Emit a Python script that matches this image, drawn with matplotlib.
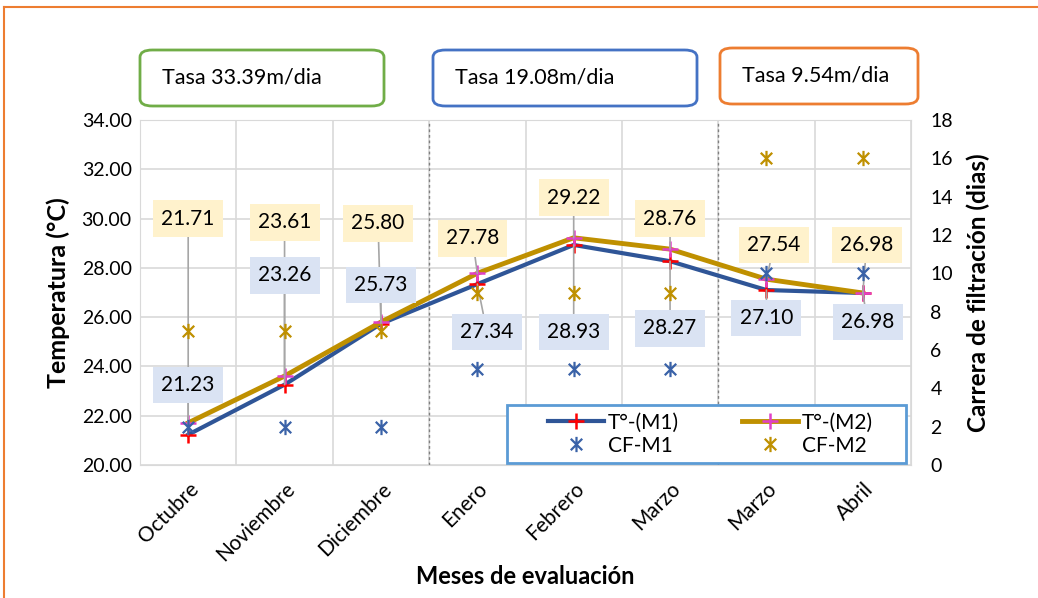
import numpy as np
import matplotlib
matplotlib.use("Agg")
import matplotlib.pyplot as plt
from matplotlib.path import Path
from matplotlib.lines import Line2D
from matplotlib.patches import FancyBboxPatch, Rectangle

plt.rcParams['font.family'] = ['Lato', 'DejaVu Sans']

# Datos
meses = ["Octubre", "Noviembre", "Diciembre", "Enero", "Febrero", "Marzo", "Marzo", "Abril"]
temp_m1 = [21.23, 23.26, 25.73, 27.34, 28.93, 28.27, 27.10, 26.98]
temp_m2 = [21.71, 23.61, 25.80, 27.78, 29.22, 28.76, 27.54, 26.98]
cf_m1 = [2, 2, 2, 5, 5, 5, 10, 10]
cf_m2 = [7, 7, 7, 9, 9, 9, 16, 16]
tasas = ["Tasa 33.39m/dia", "Tasa 19.08m/dia", "Tasa 9.54m/dia"]

# posiciones de las etiquetas (x desplazamiento, y en datos)
pos_m2 = [(0, 30.0), (0, 29.85), (-0.03, 29.8), (-0.05, 29.2), (0, 30.85), (0, 30.0), (0.08, 28.93), (0.04, 28.93)]
pos_m1 = [(0, 23.25), (0, 27.7), (0, 27.3), (0.1, 25.4), (0, 25.4), (0, 25.55), (0, 25.97), (0.05, 25.8)]

azul = "#2F5597"
oro = "#BF9000"

# marcador estrella estilo Excel
estrella = Path([(0, -1), (0, 1), (-0.75, -0.75), (0.75, 0.75), (-0.75, 0.75), (0.75, -0.75)],
                [Path.MOVETO, Path.LINETO] * 3)

W, H = 1038, 598
fig = plt.figure(figsize=(W / 100, H / 100), dpi=100)
ax = fig.add_axes([140 / W, 1 - 465 / H, 771 / W, 345 / H])
ax2 = ax.twinx()

x = np.arange(len(meses))

ax.plot(x, temp_m1, color=azul, lw=3, marker="+", mec="red", ms=12, mew=1.8, zorder=3)
ax.plot(x, temp_m2, color=oro, lw=3.5, marker="+", mec="#E040C8", ms=12, mew=1.8, zorder=3)

ax.set_xlim(-0.5, len(meses) - 0.5)
ax.set_ylim(20, 34)
ax.set_yticks(np.arange(20, 34.1, 2))
ax.set_yticklabels([f"{v:.2f}" for v in np.arange(20, 34.1, 2)])
ax.set_xticks(x)
ax.set_xticklabels(meses, rotation=45, ha="right", rotation_mode="anchor")
ax.set_xticks(np.arange(-0.5, len(meses), 1), minor=True)
ax.grid(True, axis="y", color="#D9D9D9", lw=1.2)
ax.grid(True, axis="x", which="minor", color="#D9D9D9", lw=1.2)
ax.tick_params(axis="both", which="both", length=0)
ax.tick_params(axis="y", labelsize=14, pad=6)
ax.tick_params(axis="x", labelsize=15, pad=10)
for sp in ax.spines.values():
    sp.set_color("#D9D9D9")
for sp in ax2.spines.values():
    sp.set_visible(False)
ax.set_axisbelow(True)

for xv in [2.5, 5.5]:
    ax.axvline(xv, color="#7F7F7F", lw=1, ls=(0, (2, 2)), zorder=1)

# etiquetas de datos
for i in range(len(meses)):
    ax.annotate(f"{temp_m2[i]:.2f}", xy=(x[i], temp_m2[i]),
                xytext=(x[i] + pos_m2[i][0], pos_m2[i][1]), textcoords="data",
                ha="center", va="center", fontsize=15, zorder=4,
                bbox=dict(boxstyle="square,pad=0.4", fc="#FFF2CC", ec="none"),
                arrowprops=dict(arrowstyle="-", color="#A6A6A6", lw=1.2, shrinkA=0, shrinkB=0))
    ax.annotate(f"{temp_m1[i]:.2f}", xy=(x[i], temp_m1[i]),
                xytext=(x[i] + pos_m1[i][0], pos_m1[i][1]), textcoords="data",
                ha="center", va="center", fontsize=15, zorder=4,
                bbox=dict(boxstyle="square,pad=0.4", fc="#DAE3F3", ec="none"),
                arrowprops=dict(arrowstyle="-", color="#A6A6A6", lw=1.2, shrinkA=0, shrinkB=0))

ax2.plot(x, cf_m1, ls="none", marker=estrella, ms=11, mew=1.6, mec="#3A62A8", mfc="none")
ax2.plot(x, cf_m2, ls="none", marker=estrella, ms=11, mew=1.6, mec=oro, mfc="none")
ax2.set_ylim(0, 18)
ax2.set_yticks(np.arange(0, 19, 2))
ax2.tick_params(axis="y", length=0, labelsize=14, pad=14)

ax.set_ylabel("Temperatura (°C)", fontsize=18, fontweight="bold", labelpad=8)
ax2.set_ylabel("Carrera de filtración (dias)", fontsize=17.5, fontweight="bold", labelpad=10)
ax.set_xlabel("Meses de evaluación", fontsize=17, fontweight="bold", labelpad=0)

# leyenda (marco aparte)
x0, y0, x1, y1 = 507, 405, 906, 463
marco = Rectangle(((x0 - 140) / 771, (465 - y1) / 345), (x1 - x0) / 771, (y1 - y0) / 345,
                  transform=ax2.transAxes, fc="white", ec="#5B9BD5", lw=2, zorder=9, clip_on=False)
ax2.add_patch(marco)
handles = [
    Line2D([], [], color=azul, lw=3, marker="+", mec="red", ms=12, mew=1.8),
    Line2D([], [], ls="none", marker=estrella, ms=11, mew=1.6, mec="#3A62A8"),
    Line2D([], [], color=oro, lw=3.5, marker="+", mec="#E040C8", ms=12, mew=1.8),
    Line2D([], [], ls="none", marker=estrella, ms=11, mew=1.6, mec=oro),
]
labels = ["T°-(M1)", "CF-M1", "T°-(M2)", "CF-M2"]
leg = ax2.legend(handles, labels, ncol=2, loc="center",
                 bbox_to_anchor=(((x0 + x1) / 2 - 140) / 771 + 0.005, (465 - (y0 + y1) / 2) / 345),
                 fontsize=15, frameon=False, handlelength=2.7, borderpad=0,
                 handletextpad=0.2, labelspacing=0.15, columnspacing=3.0)
leg.set_zorder(10)

# cajas de tasas
cajas = [(140, 50, 244, 56, "#70AD47"), (433, 50, 264, 56, "#4472C4"), (720, 48, 198, 56, "#ED7D31")]
for (bx, by, bw, bh, col), txt in zip(cajas, tasas):
    p = FancyBboxPatch((bx / W, 1 - (by + bh) / H), bw / W, bh / H,
                       boxstyle="round,pad=0,rounding_size=0.012", transform=fig.transFigure,
                       fc="white", ec=col, lw=2)
    fig.add_artist(p)
    fig.text((bx + 22) / W, 1 - (by + bh / 2) / H, txt, fontsize=15.5, ha="left", va="center")

# borde exterior
fig.add_artist(Line2D([4 / W, 1], [1 - 7 / H, 1 - 7 / H], color="#ED7D31", lw=1.5, transform=fig.transFigure))
fig.add_artist(Line2D([4 / W, 4 / W], [0, 1 - 7 / H], color="#ED7D31", lw=1.5, transform=fig.transFigure))

fig.savefig("out.png", dpi=100)
